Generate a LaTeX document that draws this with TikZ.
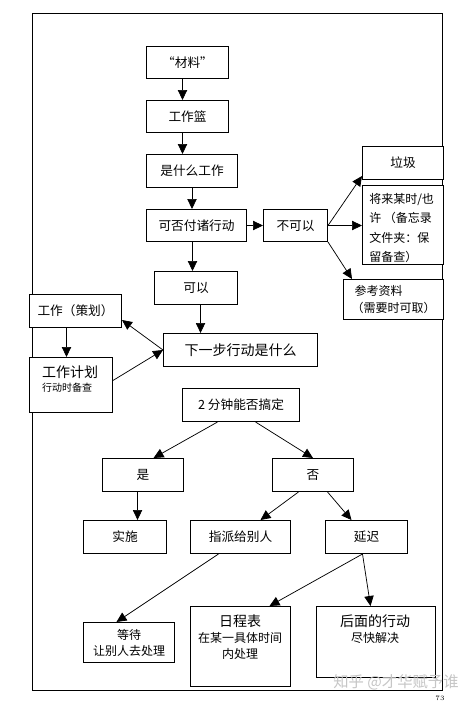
\documentclass[tikz,border=0pt]{standalone}
\usepackage{fontspec}
\newfontfamily\cjk{Noto Sans CJK SC}
\usetikzlibrary{arrows.meta}
\tikzset{
  box/.style={draw, line width=0.75pt, fill=white, inner sep=0pt, font=\cjk\fontsize{9.5}{12}\selectfont, align=center, anchor=north west},
  sz/.style 2 args={minimum width=#1*0.75pt, minimum height=#2*0.75pt},
  txt/.style={inner sep=0pt, font=\cjk\fontsize{9.5}{12}\selectfont, align=center},
  arr/.style={-{Triangle[length=7.5pt,width=7pt]}, line width=0.55pt},
}
\begin{document}
\begin{tikzpicture}[x=0.75pt,y=-0.75pt]
\useasboundingbox (0,0) rectangle (470,703);
\fill[white] (0,0) rectangle (470,703);
\draw[line width=0.75pt] (32,13) rectangle (442,690);
% boxes
\node[box,sz={82}{32}] (cl) at (146,46) {“材料”};
\node[box,sz={82}{32}] (bk) at (146,100) {工作篮};
\node[box,sz={91}{33}] (wt) at (146,154) {是什么工作};
\node[box,sz={100}{32}] (ca) at (146,209) {可否付诸行动};
\node[box,sz={64}{32}] (no) at (263,209) {不可以};
\node[box,sz={81}{33}] (tr) at (362,146) {垃圾};
\node[box,sz={81}{79}] (sm) at (362,185) {};
\node[txt,anchor=north west,align=left,font=\cjk\fontsize{9}{14.5}\selectfont] (smt) at (369,193) {将来某时/也\\许\ （备忘录\\文件夹：保\\留备查）};
\node[box,sz={100}{40},font=\cjk\fontsize{9}{13}\selectfont] (rf) at (343,279) {参考资料\hspace*{2.5em}\\（需要时可取）};
\node[box,sz={83}{33}] (ys) at (154,271) {可以};
\node[box,sz={92}{33}] (pj) at (29,294) {工作（策划）};
\node[box,sz={154}{33},font=\cjk\fontsize{10.5}{12}\selectfont] (na) at (163,333) {下一步行动是什么};
\node[box,sz={83}{55}] (pl) at (29,357) {};
\node[txt,font=\cjk\fontsize{10.5}{12}\selectfont] (plt1) at (70,372) {工作计划};
\node[txt,font=\cjk\fontsize{7.5}{10}\selectfont] (plt2) at (67,388) {行动时备查};
\node[box,sz={117}{33}] (tm) at (182,388) {2 分钟能否搞定};
\node[box,sz={81}{33}] (ye) at (102,458) {是};
\node[box,sz={81}{33}] (nn) at (272,458) {否};
\node[box,sz={83}{33}] (do) at (83,520) {实施};
\node[box,sz={100}{33}] (dl) at (190,520) {指派给别人};
\node[box,sz={82}{33}] (df) at (325,520) {延迟};
\node[box,sz={91}{40},font=\cjk\fontsize{9}{12}\selectfont] (wa) at (83,622) {等待\\让别人去处理};
\node[box,sz={100}{80}] (cal) at (190,606) {};
\node[txt,font=\cjk\fontsize{10.5}{12}\selectfont] (calt1) at (240,621) {日程表};
\node[txt,font=\cjk\fontsize{9}{12}\selectfont] (calt2) at (240,638) {在某一具体时间};
\node[txt,font=\cjk\fontsize{9}{12}\selectfont] (calt3) at (240,654) {内处理};
\node[box,sz={119}{71}] (la) at (316,606) {};
\node[txt,font=\cjk\fontsize{10.5}{12}\selectfont] (lat1) at (375,621) {后面的行动};
\node[txt,font=\cjk\fontsize{9}{12}\selectfont] (lat2) at (375,638) {尽快解决};
% connectors
\draw[arr] ([xshift=-3.75pt]cl.south) -- ([xshift=-3.75pt]cl.south |- bk.north);
\draw[arr] ([xshift=-3.75pt]bk.south) -- ([xshift=-3.75pt]bk.south |- wt.north);
\draw[arr] (wt.south) -- (wt.south |- ca.north);
\draw[arr] (ca.east) -- (no.west);
\draw[arr] (no.east) -- ([yshift=3pt]tr.south west);
\draw[arr] (no.east) -- (no.east -| sm.west);
\draw[arr] (no.south east) -- ([xshift=6.75pt]rf.north west);
\draw[arr] ([xshift=-3pt]ca.south) -- ([xshift=-3pt]ca.south |- ys.north);
\draw[arr] ([xshift=3.4pt]ys.south) -- ([xshift=3.4pt]ys.south |- na.north);
\draw[arr] (na.west) -- ([yshift=6pt]pj.south east);
\draw[arr] ([yshift=3.4pt]pl.east) -- (na.west);
\draw[arr] ([xshift=-6.75pt]pj.south) -- ([xshift=-6.75pt]pj.south |- pl.north);
\draw[arr] ([xshift=-17.6pt]tm.south) -- ([xshift=7.9pt]ye.north);
\draw[arr] ([xshift=10.9pt]tm.south) -- (nn.north);
\draw[arr] ([xshift=-4.1pt]ye.south) -- ([xshift=-4.1pt]ye.south |- do.north);
\draw[arr] ([xshift=-10.9pt]nn.south) -- ([xshift=15pt]dl.north);
\draw[arr] ([xshift=10.9pt]nn.south) -- ([xshift=-11.25pt]df.north);
\draw[arr] ([xshift=-16.5pt]dl.south) -- ([xshift=-9.4pt]wa.north);
\draw[arr] ([xshift=-3pt]df.south) -- ([xshift=21.75pt]cal.north);
\draw[arr] ([xshift=-3pt]df.south) -- ([xshift=-4.1pt]la.north);
% watermark and page number
\node[txt,text=gray!45,font=\cjk\fontsize{11.5}{12}\selectfont] (wm) at (396,682) {知乎 @才华赋予谁};
\node[txt,font=\fontsize{5}{6}\selectfont] (pg) at (440,698) {73};
\end{tikzpicture}
\end{document}
